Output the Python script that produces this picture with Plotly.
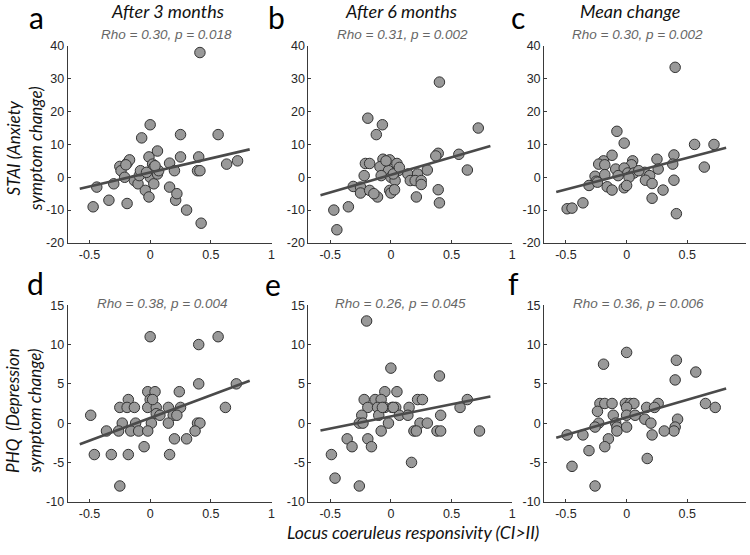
import plotly.graph_objects as go

# ---------------- data ----------------
a_x = [-0.47,-0.44,-0.34,-0.30,-0.25,-0.24,-0.21,-0.19,-0.17,-0.19,-0.13,-0.10,-0.09,-0.08,-0.07,-0.04,-0.01,0.0,-0.01,0.0,0.02,0.03,0.03,0.06,0.06,0.07,0.16,0.16,0.20,0.21,0.22,0.25,0.25,0.30,0.39,0.41,0.40,0.41,0.42,0.56,0.63,0.72,-0.03,0.04,-0.20]
a_y = [-9,-3,-7,-2,3.3,2,0,4.3,5.3,-8,-1,-2,0.5,2,12,-4,-6,16,6.2,0,4,-2,3,8,1,2,4.3,-3,2,-7,-5,13,6.2,-10,2,2,6.2,38,-14,13,4,5,1.5,3.5,3.8]

b_x = [-0.21,-0.175,-0.065,-0.01,0.05,-0.09,-0.02,0.06,-0.22,-0.08,0.0,0.035,0.02,0.14,0.22,0.16,0.20,0.25,0.25,0.30,-0.31,-0.25,-0.25,-0.175,-0.11,-0.01,0.0,0.03,0.21,0.39,0.37,0.56,0.63,0.39,0.40,-0.47,-0.35,-0.445,-0.19,-0.07,-0.12,0.40,0.72,-0.04,0.07,-0.14]
b_y = [4.2,4.2,5.5,5.3,4.2,3.2,2,2,0.5,0.5,0,-1,1,1,1,-1,-1,-1,-2.2,2.2,-2.8,-3,-4.8,-4,-6,-4,-4.8,-3.8,-6,7.3,6.5,7,2.2,-3.8,-7.8,-10,-9,-16,18,16,13,29,15,5,3,-5]

c_x = [-0.02,0.56,-0.12,-0.19,-0.23,-0.18,0.05,0.04,-0.09,-0.02,0.01,0.06,-0.07,0.02,-0.26,-0.18,-0.25,-0.31,-0.16,-0.12,-0.02,0.0,0.25,0.26,0.39,0.38,0.15,0.19,0.155,0.21,0.30,0.21,0.39,0.41,-0.49,-0.45,-0.36,0.64,0.40,-0.08,0.72,-0.24,0.10]
c_y = [10.4,10,6.7,5,4,3.8,5,3.8,2.5,2.8,1.3,1.3,0.5,0,0.3,0.8,-1.2,-2.5,-2.9,-3.9,-3.2,-2.5,5.5,2.5,6.8,4,1.5,0.5,-0.9,-1.9,-3.9,-6.4,-0.9,-11.1,-9.6,-9.4,-7.8,3.1,33.5,14,10,-1.5,2]

d_x = [0.40,0.24,-0.02,0.04,0.0,-0.18,-0.25,-0.19,-0.13,-0.02,0.05,0.15,0.25,0.05,0.19,0.22,-0.49,-0.23,-0.12,0.01,0.15,0.39,0.41,-0.36,-0.26,-0.16,-0.095,-0.02,0.37,0.20,0.30,-0.05,-0.46,-0.32,-0.18,0.16,0.62,0.0,0.56,0.40,0.71,-0.25,0.08,0.02]
d_y = [5,4,4,4,3,3,2,2,2,2,2,2,2,1.2,1,1,1,0,0,0,0,0,0,-1,-1,-1,-1,-1,-1,-2,-2,-3,-4,-4,-4,-4,2,11,11,10,5,-8,1,3]

e_x = [0.0,0.40,-0.05,0.05,-0.22,-0.13,-0.08,0.22,0.26,-0.19,-0.11,-0.05,0.01,0.04,0.15,0.57,0.63,-0.24,-0.10,0.07,0.14,0.41,-0.26,-0.23,-0.02,0.24,0.30,-0.08,0.19,0.38,0.41,0.21,0.73,-0.36,-0.19,-0.32,-0.16,-0.49,-0.20,0.17,-0.46,-0.26,0.02,-0.07]
e_y = [7,6,4,4,3,3,3,3,3,2,2,2,2,2,2,2,3,1,1,1,1,1,0,0,0,0,0,-1,-1,-1,-1,-1,-1,-2,-2,-3,-3,-4,13,-5,-7,-8,2,2]

f_x = [-0.19,0.41,0.57,0.40,-0.22,-0.18,-0.12,-0.01,0.03,0.06,0.26,0.165,0.23,-0.24,0.0,-0.11,0.0,0.07,0.15,0.20,0.42,-0.23,-0.09,-0.26,0.40,-0.08,0.39,0.0,0.31,0.21,-0.36,-0.49,-0.15,-0.18,-0.08,-0.31,0.0,0.65,0.73,0.17,-0.45,-0.26]
f_y = [7.5,8,6.5,5.5,2.5,2.5,2.5,2.5,2.5,2.5,2.5,2,2,1.5,2,1,1,1,0.5,0,0.5,0,0,-0.5,-0.5,-0.5,-1,-0.5,-1,-1.5,-1.5,-1.5,-2,-3,-1,-3.5,9,2.5,2,-4.5,-5.5,-8]

fit_x = [-0.58, 0.82]
fit_a = [-3.5, 8.5]
fit_b = [-5.5, 9.5]
fit_c = [-4.5, 9.0]
fit_d = [-2.7, 5.4]
fit_e = [-0.95, 3.4]
fit_f = [-1.86, 4.4]

stats = ["Rho = 0.30, p = 0.018", "Rho = 0.31, p = 0.002", "Rho = 0.30, p = 0.002",
         "Rho = 0.38, p = 0.004", "Rho = 0.26, p = 0.045", "Rho = 0.36, p = 0.006"]
letters = ["a", "b", "c", "d", "e", "f"]
col_titles = ["After 3 months", "After 6 months", "Mean change"]
x_ticks = [-0.5, 0, 0.5, 1]
x_ticktext = ["-0.5", "0", "0.5", "1"]
y_ticks_top = [-20, -10, 0, 10, 20, 30, 40]
y_ticks_bot = [-10, -5, 0, 5, 10, 15]

panels = [(a_x, a_y, fit_a), (b_x, b_y, fit_b), (c_x, c_y, fit_c),
          (d_x, d_y, fit_d), (e_x, e_y, fit_e), (f_x, f_y, fit_f)]

# ---------------- layout geometry (pixels) ----------------
W, H = 750, 555
col_px = [(68, 273), (310, 515), (547, 750)]
row_px = [(40, 242), (306, 507.5)]
px_per_unit = 205 / 1.68

fig = go.Figure()
TXT = "#262626"
AX = "#3a3a3a"

for i, (xs, ys, fy) in enumerate(panels):
    r, c = divmod(i, 3)
    n = i + 1
    xa = "x" if n == 1 else f"x{n}"
    ya = "y" if n == 1 else f"y{n}"
    fig.add_trace(go.Scatter(x=xs, y=ys, mode="markers", xaxis=xa, yaxis=ya,
                             marker=dict(size=10.5, color="#999999",
                                         line=dict(color="#333333", width=1)),
                             showlegend=False, hoverinfo="skip"))
    fig.add_trace(go.Scatter(x=fit_x, y=fy, mode="lines", xaxis=xa, yaxis=ya,
                             line=dict(color="#4a4a4a", width=2.6),
                             showlegend=False, hoverinfo="skip"))
    x0, x1 = col_px[c]
    y0, y1 = row_px[r]
    xr_end = -0.68 + (x1 - x0) / px_per_unit
    key_x = "xaxis" if n == 1 else f"xaxis{n}"
    key_y = "yaxis" if n == 1 else f"yaxis{n}"
    fig.layout[key_x] = dict(domain=[x0 / W, x1 / W], range=[-0.68, xr_end],
                             anchor=ya, tickvals=x_ticks, ticktext=x_ticktext,
                             showline=True, linecolor=AX, linewidth=1,
                             ticks="inside", ticklen=3, tickcolor=AX,
                             showgrid=False, zeroline=False,
                             tickfont=dict(family="Liberation Sans, Arial", size=12.5, color=TXT))
    yt = y_ticks_top if r == 0 else y_ticks_bot
    fig.layout[key_y] = dict(domain=[1 - y1 / H, 1 - y0 / H], range=[yt[0], yt[-1]],
                             anchor=xa, tickvals=yt, ticktext=[str(v) for v in yt],
                             showline=True, linecolor=AX, linewidth=1,
                             ticks="inside", ticklen=3, tickcolor=AX,
                             showgrid=False, zeroline=False,
                             tickfont=dict(family="Liberation Sans, Arial", size=12.5, color=TXT))

ann = []
def A(text, x, y, size, color=TXT, family="Lato", angle=0, xanchor="center", yanchor="middle"):
    ann.append(dict(text=text, x=x / W, y=1 - y / H, xref="paper", yref="paper",
                    showarrow=False, textangle=angle, xanchor=xanchor, yanchor=yanchor,
                    font=dict(family=family, size=size, color=color)))

# column titles
for t, cx in zip(col_titles, [168, 403, 633]):
    A(f"<i>{t}</i>", cx, 4, 18, color="#111111")
# stats
stat_pos = [(167, 28), (405, 28), (641, 28), (163, 304), (403, 304), (642, 304)]
for s, (sx, sy) in zip(stats, stat_pos):
    A(f"<i>{s}</i>", sx, sy, 13.5, color="#666666", family="Liberation Sans, Arial")
# letters
letter_pos = [(37, 10), (278, 10), (521, 10), (36, 283), (274, 284), (516, 283)]
for l, (lx, ly) in zip(letters, letter_pos):
    A(l, lx, ly, 30, color="#000000")
# y titles
A("<i>STAI (Anxiety<br>symptom change)</i>", 24, 145, 17, angle=-90, color="#111111")
A("<i>PHQ  (Depression<br>symptom change)</i>", 24, 414, 17, angle=-90, color="#111111")
# x title
A("<i>Locus coeruleus responsivity (CI>II)</i>", 415, 539, 17.5, color="#111111")

fig.update_layout(width=W, height=H, margin=dict(l=0, r=0, t=0, b=0),
                  paper_bgcolor="white", plot_bgcolor="white", annotations=ann)
fig.write_html("out.html", config={"displayModeBar": False},
               post_script="document.body.style.margin='0px';document.body.style.overflow='hidden';")
